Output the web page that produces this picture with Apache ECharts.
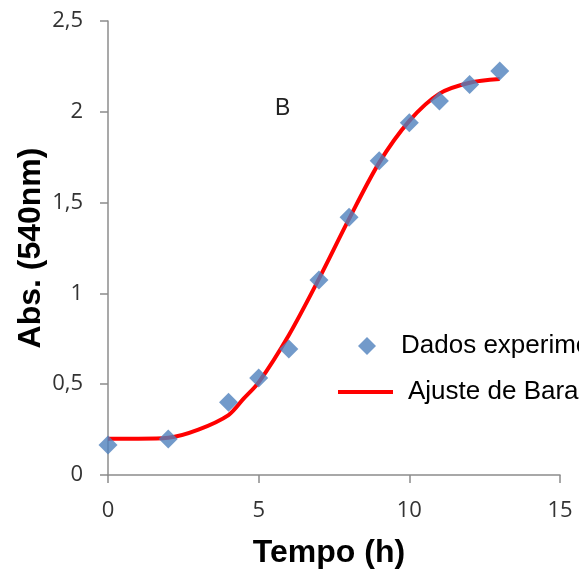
<!DOCTYPE html>
<html>
<head>
    <meta charset="utf-8">
    <script type="text/javascript" src="https://cdn.jsdelivr.net/npm/echarts@6/dist/echarts.min.js"></script>
    <title>Abs x Tempo</title>
</head>
<body style="margin:0">
    <div id="container" style="width:579px;height:569px;"></div>
    <script type="text/javascript">
    // dados experimentais (tempo em h, absorbância a 540nm)
    var tempoExp = [0, 2, 4, 5, 6, 7, 8, 9, 10, 11, 12, 13];
    var absExp = [0.165, 0.198, 0.40, 0.534, 0.694, 1.074, 1.42, 1.73, 1.94, 2.06, 2.15, 2.225];

    // curva do ajuste de Baranyi
    var tempoAjuste = [0, 1, 2, 3, 4, 4.5, 5, 6, 7, 8, 9, 10, 11, 12, 13];
    var absAjuste = [0.2, 0.2, 0.205, 0.25, 0.33, 0.42, 0.51, 0.77, 1.08, 1.41, 1.72, 1.95, 2.1, 2.16, 2.18];

    // rótulos dos eixos
    var yTicks = [0, 0.5, 1, 1.5, 2, 2.5];
    var xTicks = [0, 5, 10, 15];

    var myChart = echarts.init(document.getElementById('container'));

    function pares(xs, ys) {
        return xs.map(function (x, i) { return [x, ys[i]]; });
    }

    var eixoCor = '#8c8c8c';
    var tickFont = { fontFamily: 'Open Sans', fontSize: 22, color: '#333' };
    var tituloFont = { fontFamily: 'Liberation Sans', fontWeight: 'bold', fontSize: 32, color: '#000' };

    var option = {
        animation: false,
        grid: { left: 108, right: 19, top: 21, bottom: 94, containLabel: false, outerBoundsMode: 'none' },
        xAxis: {
            type: 'value',
            min: xTicks[0],
            max: xTicks[xTicks.length - 1],
            interval: 5,
            name: 'Tempo (h)',
            nameLocation: 'middle',
            nameGap: 62,
            nameTextStyle: Object.assign({ padding: [0, 10, 0, 0] }, tituloFont),
            splitLine: { show: false },
            axisLine: { lineStyle: { color: eixoCor, width: 1.5 } },
            axisTick: { length: 8, lineStyle: { color: eixoCor, width: 1.5 } },
            axisLabel: Object.assign({ margin: 25 }, tickFont)
        },
        yAxis: {
            type: 'value',
            min: yTicks[0],
            max: yTicks[yTicks.length - 1],
            interval: 0.5,
            name: 'Abs. (540nm)',
            nameLocation: 'middle',
            nameGap: 61,
            nameMoveOverlap: false,
            nameTextStyle: tituloFont,
            splitLine: { show: false },
            axisLine: { show: true, lineStyle: { color: eixoCor, width: 1.5 } },
            axisTick: { show: true, length: 8, lineStyle: { color: eixoCor, width: 1.5 } },
            axisLabel: Object.assign({
                margin: 25,
                formatter: function (v) { return String(v).replace('.', ','); }
            }, tickFont)
        },
        legend: [{
            data: ['Dados experimentais'],
            left: 353,
            top: 328,
            itemWidth: 18,
            itemHeight: 18,
            textStyle: { fontFamily: 'Liberation Sans', fontSize: 26, color: '#000', padding: [0, 0, 0, 20] }
        }, {
            data: [{ name: 'Ajuste de Baranyi', icon: 'rect' }],
            left: 333,
            top: 374,
            itemWidth: 55,
            itemHeight: 4,
            textStyle: { fontFamily: 'Liberation Sans', fontSize: 26, color: '#000', padding: [0, 0, 0, 10] }
        }],
        graphic: [{
            type: 'text',
            left: 275,
            top: 97,
            style: { text: 'B', font: '23px "Liberation Sans"', fill: '#222' }
        }],
        series: [{
            name: 'Ajuste de Baranyi',
            type: 'line',
            data: pares(tempoAjuste, absAjuste),
            smooth: 0.3,
            symbol: 'none',
            lineStyle: { color: '#ff0000', width: 4 },
            itemStyle: { color: '#ff0000' },
            z: 2
        }, {
            name: 'Dados experimentais',
            type: 'scatter',
            data: pares(tempoExp, absExp),
            symbol: 'diamond',
            symbolSize: 19,
            itemStyle: { color: '#4f81bd' },
            z: 3
        }]
    };

    myChart.setOption(option);
    </script>
</body>
</html>
